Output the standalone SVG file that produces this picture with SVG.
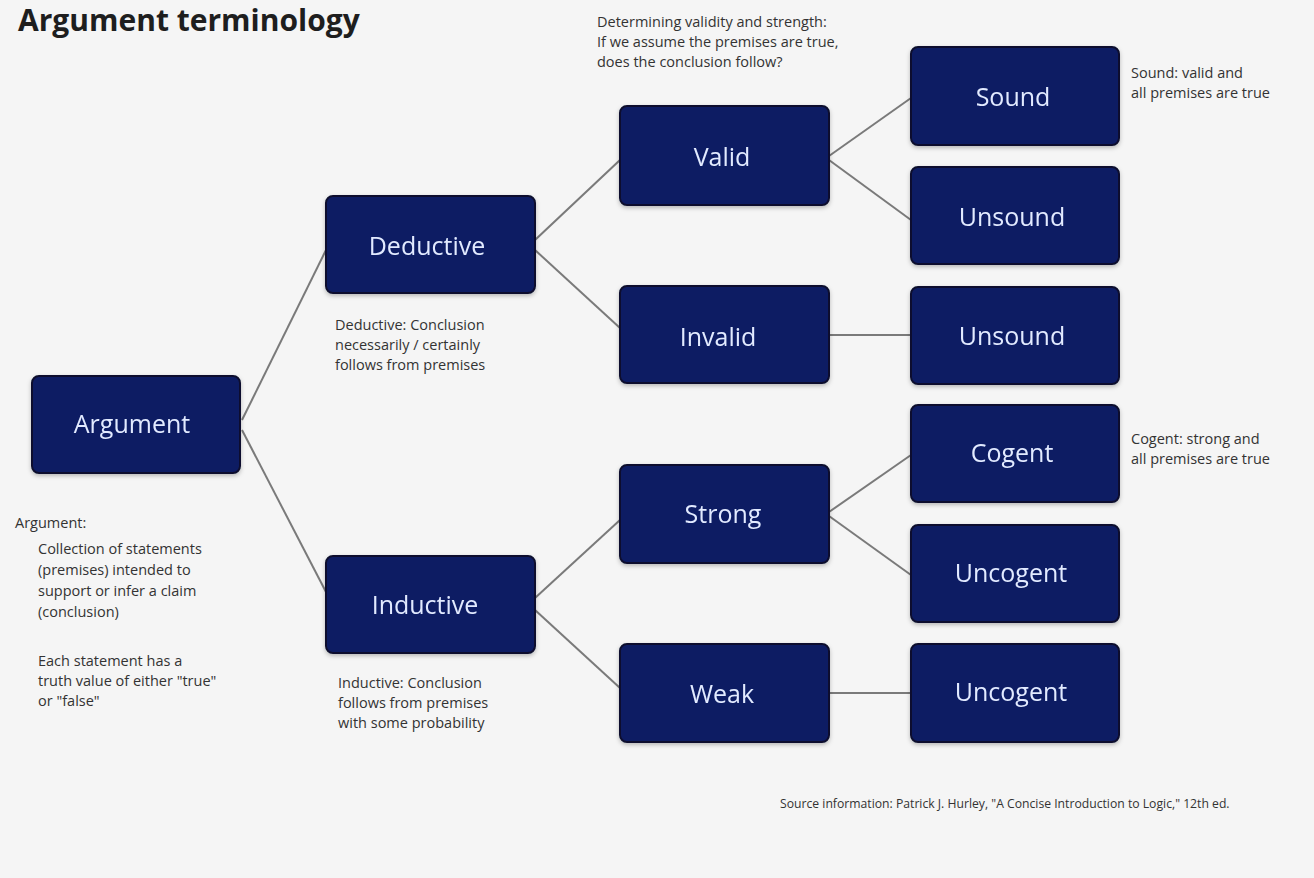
<svg xmlns="http://www.w3.org/2000/svg" width="1314" height="878" viewBox="0 0 1314 878">
<defs>
<style>
.node rect{fill:#0b1c64;stroke:#0a0f2e;stroke-width:2}
.node text{fill:#e2eaff;font-family:"Open Sans","Liberation Sans",Arial,sans-serif;font-size:25px;text-anchor:middle;dominant-baseline:central}
.edge{stroke:#7a7a7a;stroke-width:2;fill:none}
.note{fill:#333;font-family:"Open Sans","Liberation Sans",Arial,sans-serif;font-size:14.5px}
.src{fill:#333;font-family:"Open Sans","Liberation Sans",Arial,sans-serif;font-size:12.2px}
.title{fill:#1e1e1e;font-family:"Open Sans","Liberation Sans",Arial,sans-serif;font-size:30px;font-weight:bold}
</style>
<filter id="sh" x="-10%" y="-10%" width="120%" height="125%">
<feDropShadow dx="0" dy="2" stdDeviation="2" flood-color="#000" flood-opacity="0.25"/>
</filter>
</defs>
<rect width="1314" height="878" fill="#f5f5f5"/>
<text class="title" x="18" y="31">Argument terminology</text>

<g id="connectors">
<line class="edge" x1="242" y1="420" x2="326" y2="250"/>
<line class="edge" x1="242" y1="430" x2="326" y2="592"/>
<line class="edge" x1="535" y1="240" x2="620" y2="160"/>
<line class="edge" x1="535" y1="250" x2="620" y2="328"/>
<line class="edge" x1="535" y1="598" x2="620" y2="520"/>
<line class="edge" x1="535" y1="610" x2="620" y2="688"/>
<line class="edge" x1="829" y1="156" x2="911" y2="98"/>
<line class="edge" x1="829" y1="160" x2="911" y2="220"/>
<line class="edge" x1="829" y1="335" x2="911" y2="335"/>
<line class="edge" x1="829" y1="512" x2="911" y2="455"/>
<line class="edge" x1="829" y1="516" x2="911" y2="575"/>
<line class="edge" x1="829" y1="693" x2="911" y2="693"/>
</g>

<g id="n-argument" class="node" filter="url(#sh)"><rect x="32" y="376" width="208" height="97" rx="7"/><text x="132" y="423">Argument</text></g>
<g id="n-deductive" class="node" filter="url(#sh)"><rect x="326" y="196" width="209" height="97" rx="7"/><text x="427" y="245">Deductive</text></g>
<g id="n-inductive" class="node" filter="url(#sh)"><rect x="326" y="556" width="209" height="97" rx="7"/><text x="425" y="604">Inductive</text></g>
<g id="n-valid" class="node" filter="url(#sh)"><rect x="620" y="106" width="209" height="99" rx="7"/><text x="722" y="156">Valid</text></g>
<g id="n-invalid" class="node" filter="url(#sh)"><rect x="620" y="286" width="209" height="97" rx="7"/><text x="718" y="336">Invalid</text></g>
<g id="n-strong" class="node" filter="url(#sh)"><rect x="620" y="465" width="209" height="98" rx="7"/><text x="723" y="513">Strong</text></g>
<g id="n-weak" class="node" filter="url(#sh)"><rect x="620" y="644" width="209" height="98" rx="7"/><text x="722" y="693">Weak</text></g>
<g id="n-sound" class="node" filter="url(#sh)"><rect x="911" y="47" width="208" height="98" rx="7"/><text x="1013" y="96">Sound</text></g>
<g id="n-unsound1" class="node" filter="url(#sh)"><rect x="911" y="167" width="208" height="97" rx="7"/><text x="1012" y="216">Unsound</text></g>
<g id="n-unsound2" class="node" filter="url(#sh)"><rect x="911" y="287" width="208" height="97" rx="7"/><text x="1012" y="335">Unsound</text></g>
<g id="n-cogent" class="node" filter="url(#sh)"><rect x="911" y="405" width="208" height="97" rx="7"/><text x="1012" y="452">Cogent</text></g>
<g id="n-uncogent1" class="node" filter="url(#sh)"><rect x="911" y="525" width="208" height="97" rx="7"/><text x="1011" y="572">Uncogent</text></g>
<g id="n-uncogent2" class="node" filter="url(#sh)"><rect x="911" y="644" width="208" height="98" rx="7"/><text x="1011" y="691">Uncogent</text></g>

<g id="notes">
<text class="note" x="597" y="27">Determining validity and strength:</text>
<text class="note" x="597" y="47">If we assume the premises are true,</text>
<text class="note" x="597" y="67">does the conclusion follow?</text>

<text class="note" x="1131" y="78">Sound: valid and</text>
<text class="note" x="1131" y="98">all premises are true</text>

<text class="note" x="1131" y="444">Cogent: strong and</text>
<text class="note" x="1131" y="464">all premises are true</text>

<text class="note" x="335" y="330">Deductive: Conclusion</text>
<text class="note" x="335" y="350">necessarily / certainly</text>
<text class="note" x="335" y="370">follows from premises</text>

<text class="note" x="338" y="688">Inductive: Conclusion</text>
<text class="note" x="338" y="708">follows from premises</text>
<text class="note" x="338" y="728">with some probability</text>

<text class="note" x="15" y="528">Argument:</text>
<text class="note" x="38" y="554">Collection of statements</text>
<text class="note" x="38" y="575">(premises) intended to</text>
<text class="note" x="38" y="596">support or infer a claim</text>
<text class="note" x="38" y="617">(conclusion)</text>
<text class="note" x="38" y="666">Each statement has a</text>
<text class="note" x="38" y="686">truth value of either "true"</text>
<text class="note" x="38" y="706">or "false"</text>

<text class="src" x="780" y="808">Source information: Patrick J. Hurley, "A Concise Introduction to Logic," 12th ed.</text>
</g>
</svg>
